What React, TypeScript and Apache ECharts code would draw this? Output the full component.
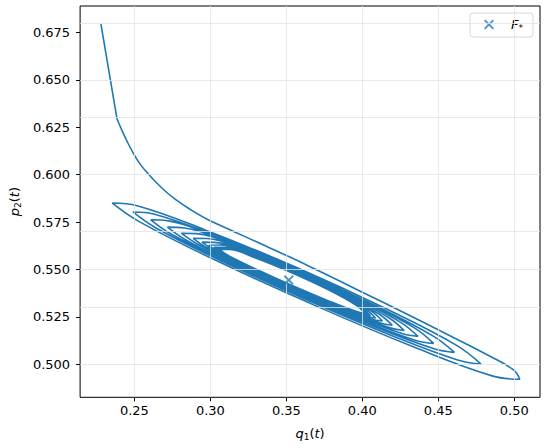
import React, { useEffect, useRef } from "react";
import * as echarts from "echarts";

// initial straight step of the trajectory (q1, p2)
const approachQ1 = [0.228, 0.2386];
const approachP2 = [0.6794, 0.6293];

// trajectory after the first step
const spiralQ1 = [
  0.2386, 0.242, 0.2459, 0.25, 0.2543, 0.2589, 0.2641, 0.2706, 0.277, 0.2868, 0.2976, 0.316, 0.3311, 0.3516,
  0.3678, 0.4003, 0.4262, 0.4586, 0.4846, 0.4995, 0.5036,
  0.4854, 0.4364, 0.3694, 0.3025, 0.2535, 0.2355,
  0.2518, 0.2962, 0.3568, 0.4174, 0.4618, 0.4781,
  0.4627, 0.4208, 0.3636, 0.3064, 0.2645, 0.2491,
  0.2633, 0.302, 0.3548, 0.4077, 0.4464, 0.4606,
  0.4472, 0.4106, 0.3607, 0.3107, 0.2742, 0.2608,
  0.2733, 0.3073, 0.3539, 0.4004, 0.4345, 0.4469,
  0.4352, 0.4032, 0.3594, 0.3156, 0.2836, 0.2718,
  0.2829, 0.313, 0.3542, 0.3954, 0.4255, 0.4366,
  0.4261, 0.3976, 0.3587, 0.3198, 0.2914, 0.2809,
  0.2907, 0.3176, 0.3542, 0.3908, 0.4177, 0.4275,
  0.4182, 0.3928, 0.3581, 0.3234, 0.298, 0.2887,
  0.2975, 0.3214, 0.3542, 0.3869, 0.4109, 0.4197,
  0.4113, 0.3884, 0.3571, 0.3258, 0.3029, 0.2945,
  0.3025, 0.3242, 0.3539, 0.3835, 0.4052, 0.4132,
  0.4056, 0.3847, 0.3561, 0.3276, 0.3067, 0.2991,
  0.3064, 0.3265, 0.3539, 0.3813, 0.4013, 0.4087,
  0.4015, 0.3821, 0.3555, 0.3289, 0.3095, 0.3023,
  0.3092, 0.3281, 0.3539, 0.3797, 0.3985, 0.4054,
  0.3987, 0.3801, 0.3548, 0.3296, 0.311, 0.3043,
  0.3109, 0.3291, 0.3539, 0.3787, 0.3968, 0.4035,
  0.3969, 0.379, 0.3545, 0.33, 0.3121, 0.3056,
  0.312, 0.3297, 0.3539, 0.378, 0.3957, 0.4022,
  0.3958, 0.3782, 0.3542, 0.3302, 0.3126, 0.3062,
];
const spiralP2 = [
  0.6293, 0.623, 0.6164, 0.6103, 0.605, 0.6006, 0.5961, 0.5911, 0.5869, 0.5816, 0.5766, 0.5698, 0.5643, 0.5568,
  0.5506, 0.5379, 0.5277, 0.5147, 0.504, 0.497, 0.4921,
  0.4939, 0.5083, 0.5308, 0.5552, 0.5751, 0.585,
  0.5836, 0.571, 0.551, 0.5286, 0.5101, 0.5001,
  0.5023, 0.5147, 0.5339, 0.5548, 0.5717, 0.5803,
  0.5791, 0.5683, 0.5509, 0.5313, 0.515, 0.5063,
  0.5082, 0.519, 0.5357, 0.5539, 0.5687, 0.5762,
  0.5755, 0.5663, 0.551, 0.5337, 0.5191, 0.511,
  0.5126, 0.522, 0.5367, 0.5527, 0.5657, 0.5723,
  0.5719, 0.5639, 0.5504, 0.535, 0.522, 0.5147,
  0.5162, 0.5246, 0.5377, 0.5519, 0.5634, 0.5691,
  0.5689, 0.5618, 0.5498, 0.5362, 0.5244, 0.5178,
  0.5192, 0.5268, 0.5384, 0.5511, 0.5613, 0.5664,
  0.5663, 0.56, 0.5493, 0.5371, 0.5265, 0.5206,
  0.5219, 0.5288, 0.5393, 0.5507, 0.5599, 0.5644,
  0.5643, 0.5588, 0.5491, 0.538, 0.5284, 0.5228,
  0.5239, 0.53, 0.5397, 0.55, 0.5585, 0.5628,
  0.5629, 0.5577, 0.5489, 0.5386, 0.5296, 0.5244,
  0.5255, 0.5312, 0.5401, 0.5498, 0.5578, 0.5617,
  0.5617, 0.557, 0.5487, 0.539, 0.5305, 0.5256,
  0.5266, 0.5322, 0.5407, 0.5499, 0.5573, 0.561,
  0.5611, 0.5564, 0.5483, 0.539, 0.531, 0.5262,
  0.5273, 0.5327, 0.541, 0.5499, 0.557, 0.5605,
  0.5605, 0.556, 0.5481, 0.5391, 0.5312, 0.5267,
  0.5279, 0.5333, 0.5414, 0.5501, 0.557, 0.5603,
];

const fixedPointQ1 = [0.3516];
const fixedPointP2 = [0.5444];

const xTicks = [0.25, 0.3, 0.35, 0.4, 0.45, 0.5];
const yTicks = [0.5, 0.525, 0.55, 0.575, 0.6, 0.625, 0.65, 0.675];
const xRange = [0.2143, 0.5169];
const yRange = [0.4826, 0.6889];

const BLUE = "#1f77b4";
const FONT = "DejaVu Sans";
const X_PATH =
  "path://M0,1.3L1.3,0L5,3.7L8.7,0L10,1.3L6.3,5L10,8.7L8.7,10L5,6.3L1.3,10L0,8.7L3.7,5Z";

const zip = (a: number[], b: number[]) => a.map((v, i) => [v, b[i]]);

export default function App() {
  const ref = useRef<HTMLDivElement>(null);
  useEffect(() => {
    if (!ref.current) return;
    const chart = echarts.init(ref.current, undefined, { renderer: "svg" });
    const mathRich = {
      i: { fontFamily: FONT, fontStyle: "italic", fontSize: 13, color: "#000" },
      n: { fontFamily: FONT, fontSize: 13, color: "#000" },
      s: { fontFamily: FONT, fontSize: 9, color: "#000", padding: [6, 0, 0, 0] },
    };
    chart.setOption({
      animation: false,
      backgroundColor: "#fff",
      grid: {
        left: 73.3,
        top: 6,
        width: 466.7,
        height: 391.3,
        show: true,
        borderColor: "#000",
        borderWidth: 1,
        backgroundColor: "transparent",
      },
      legend: {
        right: 17,
        top: 13,
        data: [{ name: "F*", icon: X_PATH }],
        itemWidth: 10,
        itemHeight: 10,
        padding: [5, 10, 5, 14],
        backgroundColor: "#fff",
        borderColor: "#d6d6d6",
        borderWidth: 1,
        borderRadius: 3,
        formatter: () => "{i|F}{s|*}",
        textStyle: {
          rich: {
            i: { fontFamily: FONT, fontStyle: "italic", fontSize: 13, color: "#000", padding: [0, 0, 0, 12] },
            s: { fontFamily: FONT, fontSize: 9, color: "#000", padding: [6, 0, 0, 0] },
          },
        },
      },
      xAxis: {
        type: "value",
        min: xRange[0],
        max: xRange[1],
        name: "{i|q}{s|1}{n|(}{i|t}{n|)}",
        nameLocation: "middle",
        nameGap: 29,
        nameTextStyle: { rich: mathRich },
        axisLine: { show: false },
        splitLine: { show: false },
        axisTick: { show: true, customValues: xTicks, length: 4, lineStyle: { color: "#000", width: 1 } },
        axisLabel: {
          customValues: xTicks,
          formatter: (v: number) => v.toFixed(2),
          fontFamily: FONT,
          fontSize: 13,
          color: "#000",
          margin: 7,
        },
      },
      yAxis: {
        type: "value",
        min: yRange[0],
        max: yRange[1],
        name: "{i|p}{s|2}{n|(}{i|t}{n|)}",
        nameLocation: "middle",
        nameGap: 47,
        nameTextStyle: { rich: mathRich },
        axisLine: { show: false },
        splitLine: { show: false },
        axisTick: { show: true, customValues: yTicks, length: 4, lineStyle: { color: "#000", width: 1 } },
        axisLabel: {
          customValues: yTicks,
          formatter: (v: number) => v.toFixed(3),
          fontFamily: FONT,
          fontSize: 13,
          color: "#000",
          margin: 10,
        },
      },
      series: [
        {
          name: "grid",
          type: "line",
          data: [],
          z: 1,
          silent: true,
          markLine: {
            silent: true,
            symbol: ["none", "none"],
            label: { show: false },
            lineStyle: { color: "#e3e3e3", width: 0.8, type: "solid" },
            data: [
              ...xTicks.map((v) => ({ xAxis: v })),
              ...yTicks.map((v) => ({ yAxis: v })),
            ],
          },
        },
        {
          name: "approach",
          type: "line",
          data: zip(approachQ1, approachP2),
          showSymbol: false,
          symbol: "none",
          z: 2,
          lineStyle: { color: BLUE, width: 1.6 },
        },
        {
          name: "trajectory",
          type: "line",
          data: zip(spiralQ1, spiralP2),
          showSymbol: false,
          symbol: "none",
          smooth: 0.4,
          z: 2,
          lineStyle: { color: BLUE, width: 1.6 },
        },
        {
          name: "F*",
          type: "scatter",
          data: zip(fixedPointQ1, fixedPointP2),
          symbol: X_PATH,
          symbolSize: 10,
          z: 5,
          itemStyle: { color: BLUE },
        },
      ],
    });
    return () => chart.dispose();
  }, []);
  return (
    <div
      ref={ref}
      style={{ position: "fixed", left: 0, top: 0, width: 550, height: 448, background: "#fff" }}
    />
  );
}
